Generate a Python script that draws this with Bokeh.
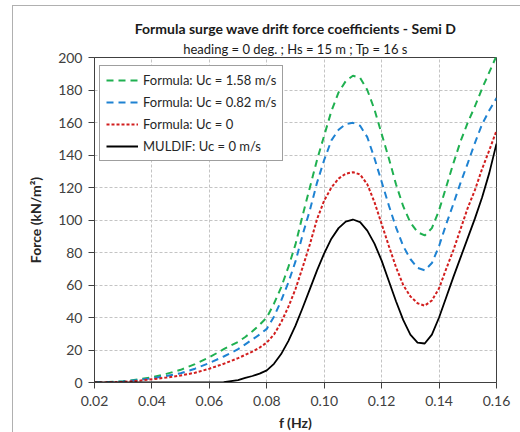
from bokeh.plotting import figure
from bokeh.models import Legend, LegendItem, NumeralTickFormatter, FixedTicker, Range1d, Title
from bokeh.embed import file_html
from bokeh.resources import INLINE

# ---- data ----
freq = [0.02, 0.025, 0.03, 0.035, 0.04, 0.045, 0.05, 0.055, 0.06, 0.065,
        0.07, 0.0725, 0.075, 0.0775, 0.08, 0.0825, 0.085, 0.0875, 0.09, 0.0925,
        0.095, 0.0975, 0.1, 0.1025, 0.105, 0.1075, 0.11, 0.1125, 0.115, 0.1175,
        0.12, 0.1225, 0.125, 0.1275, 0.13, 0.1325, 0.135, 0.1375, 0.14, 0.1425,
        0.145, 0.1475, 0.15, 0.1525, 0.155, 0.1575, 0.16]

muldif_uc0 = [0, 0, 0, 0, 0, 0, 0, 0, 0, 0.2,
              1.5, 2.8, 4, 5.5, 7.5, 11.5, 17.5, 25.5, 35, 46,
              57.5, 69, 79.5, 88.5, 95, 99, 100.3, 98.7, 93.5, 85.5,
              75, 62.5, 50, 38.5, 29.5, 24.6, 24, 29.5, 40, 52.5,
              65, 77, 89, 101, 114, 129, 147]

formula_uc0 = [0, 0.1, 0.4, 1, 2, 3, 4.3, 6, 8.5, 11.5,
               15, 17, 19, 21.5, 24.6, 29.5, 37, 46.5, 57.5, 71,
               85, 100.5, 112, 120, 125.5, 128.5, 129.4, 128, 122, 111,
               97.5, 84, 71, 60, 53, 48.8, 47.3, 50.5, 58, 70,
               81.5, 94.5, 107.5, 118.5, 131.5, 143, 155]

formula_uc082 = [0, 0.2, 0.6, 1.4, 2.6, 4, 5.7, 8.5, 12, 16,
                 20.5, 23.5, 26.5, 29.5, 33, 40.5, 50.3, 61.5, 74.5, 91,
                 106, 123, 137, 149, 155.5, 159, 159.8, 158, 151, 138,
                 123.5, 109, 95.5, 84, 76, 70.5, 69, 73.5, 84, 97.5,
                 110, 123, 135, 147.5, 159, 167.5, 175]

formula_uc158 = [0, 0.3, 0.8, 1.8, 3.2, 5.3, 7.8, 11.3, 15.5, 20.5,
                 25, 28, 31.5, 35.5, 40, 48.5, 58.5, 71, 85, 103,
                 120, 137, 152, 167, 178.5, 185.5, 188.8, 187.5, 180, 168,
                 153, 138, 122, 108.5, 98.5, 92.5, 90.5, 95, 106, 120.5,
                 135, 148.5, 160, 170, 181, 191, 201]

x_ticks = [0.02, 0.04, 0.06, 0.08, 0.10, 0.12, 0.14, 0.16]
y_ticks = [0, 20, 40, 60, 80, 100, 120, 140, 160, 180, 200]

series_labels = ["Formula: Uc = 1.58 m/s", "Formula: Uc = 0.82 m/s",
                 "Formula: Uc = 0", "MULDIF: Uc = 0 m/s"]

title_text = "Formula surge wave drift force coefficients - Semi D"
subtitle_text = "heading = 0 deg. ; Hs = 15 m ; Tp = 16 s"

FONT = "Lato"

p = figure(width=508, height=427, output_backend="svg", toolbar_location=None,
           x_range=Range1d(0.02, 0.16), y_range=Range1d(0, 200),
           min_border_left=81, min_border_right=25, min_border_top=51, min_border_bottom=51)
p.margin = (5, 0, 0, 12)
p.styles = {"border-left": "1px solid #b0b0b0", "border-top": "1px solid #b0b0b0"}

p.background_fill_color = "white"
p.border_fill_color = "white"
p.outline_line_color = "#404040"
p.outline_line_width = 1

# titles (subtitle first = closest to the frame)
p.add_layout(Title(text=subtitle_text, align="center", text_font=FONT,
                   text_font_size="13px", text_font_style="normal",
                   text_color="#1a1a1a", standoff=2, offset=0), "above")
p.add_layout(Title(text=title_text, align="center", text_font=FONT,
                   text_font_size="14px", text_font_style="bold",
                   text_color="#1a1a1a", standoff=1, offset=0), "above")

# grid
for g in (p.xgrid, p.ygrid):
    g.grid_line_color = "#c4c4c4"
    g.grid_line_dash = "3 2"
    g.grid_line_width = 1

p.xaxis.ticker = FixedTicker(ticks=x_ticks)
p.yaxis.ticker = FixedTicker(ticks=y_ticks)
p.xaxis.formatter = NumeralTickFormatter(format="0.00")
p.yaxis.formatter = NumeralTickFormatter(format="0")

for ax in (p.xaxis, p.yaxis):
    ax.axis_line_color = "#404040"
    ax.major_tick_line_color = "#404040"
    ax.major_tick_out = 6
    ax.major_tick_in = 0
    ax.minor_tick_line_color = None
    ax.major_label_text_font = FONT
    ax.major_label_text_font_size = "14px"
    ax.major_label_text_color = "#404040"
    ax.axis_label_text_font = FONT
    ax.axis_label_text_font_size = "14px"
    ax.axis_label_text_font_style = "bold"
    ax.axis_label_text_color = "#262626"

p.xaxis.axis_label = "f (Hz)"
p.yaxis.axis_label = "Force (kN/m\u00b2)"
p.xaxis.major_label_standoff = 7
p.yaxis.major_label_standoff = 6
p.xaxis.axis_label_standoff = 5
p.yaxis.axis_label_standoff = 11

r_g = p.line(freq, formula_uc158, line_color="#1fb050", line_width=2, line_dash="7 5")
r_b = p.line(freq, formula_uc082, line_color="#1e82d2", line_width=2, line_dash="7 5")
r_r = p.line(freq, formula_uc0, line_color="#d21e1e", line_width=2, line_dash="3 2")
r_k = p.line(freq, muldif_uc0, line_color="black", line_width=1.8, line_join="round")

legend = Legend(items=[LegendItem(label=series_labels[0], renderers=[r_g]),
                       LegendItem(label=series_labels[1], renderers=[r_b]),
                       LegendItem(label=series_labels[2], renderers=[r_r]),
                       LegendItem(label=series_labels[3], renderers=[r_k])],
                location=(5, 221))
legend.label_text_font = FONT
legend.label_text_font_size = "13px"
legend.label_text_color = "#262626"
legend.label_height = 16
legend.glyph_height = 16
legend.glyph_width = 32
legend.label_standoff = 5
legend.spacing = 6
legend.padding = 6
legend.margin = 0
legend.border_line_color = "#404040"
legend.border_line_width = 1
legend.background_fill_color = "white"
legend.background_fill_alpha = 1
p.add_layout(legend, "center")

open("out.html", "w").write(file_html(p, INLINE))
